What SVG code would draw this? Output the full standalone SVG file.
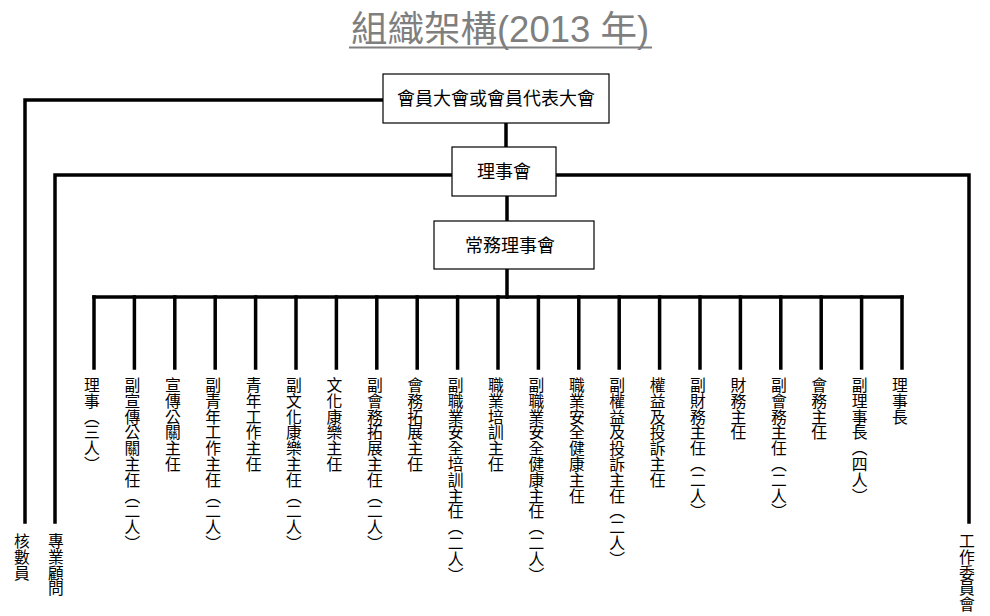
<svg xmlns="http://www.w3.org/2000/svg" width="990" height="616" viewBox="0 0 990 616">
<style>
.box{fill:#fff;stroke:#000;stroke-width:1.2}
.bt{font-family:"Noto Sans CJK TC","Noto Sans CJK SC",sans-serif;font-size:18px;fill:#000;text-anchor:middle}
.ln{fill:none;stroke:#000;stroke-width:3.5;stroke-linejoin:miter;stroke-linecap:square}
.vt{font-family:"Noto Sans CJK TC","Noto Sans CJK SC",sans-serif;font-size:15.8px;fill:#000;writing-mode:vertical-rl;text-anchor:start}
.title{font-family:"Liberation Sans","Noto Sans CJK TC",sans-serif;font-size:36.5px;fill:#7f7f7f;text-anchor:middle}
</style>
<rect width="990" height="616" fill="#fff"/>
<g id="title">
<text class="title" x="500" y="42">組織架構(2013 年)</text>
<line x1="349" y1="47.5" x2="652" y2="47.5" stroke="#7f7f7f" stroke-width="2"/>
</g>
<g id="connectors">
<polyline class="ln" points="383,100 25,100 25,522"/>
<line class="ln" x1="506" y1="123" x2="506" y2="147"/>
<polyline class="ln" points="452,175 55,175 55,522"/>
<polyline class="ln" points="556,175 969,175 969,522"/>
<line class="ln" x1="507" y1="196" x2="507" y2="221"/>
<line class="ln" x1="507" y1="269" x2="507" y2="297"/>
<line class="ln" x1="94" y1="297" x2="902" y2="297"/>
<line class="ln" x1="94" y1="297" x2="94" y2="368"/>
<line class="ln" x1="134.4" y1="297" x2="134.4" y2="368"/>
<line class="ln" x1="174.8" y1="297" x2="174.8" y2="368"/>
<line class="ln" x1="215.2" y1="297" x2="215.2" y2="368"/>
<line class="ln" x1="255.6" y1="297" x2="255.6" y2="368"/>
<line class="ln" x1="296" y1="297" x2="296" y2="368"/>
<line class="ln" x1="336.4" y1="297" x2="336.4" y2="368"/>
<line class="ln" x1="376.8" y1="297" x2="376.8" y2="368"/>
<line class="ln" x1="417.2" y1="297" x2="417.2" y2="368"/>
<line class="ln" x1="457.6" y1="297" x2="457.6" y2="368"/>
<line class="ln" x1="498" y1="297" x2="498" y2="368"/>
<line class="ln" x1="538.4" y1="297" x2="538.4" y2="368"/>
<line class="ln" x1="578.8" y1="297" x2="578.8" y2="368"/>
<line class="ln" x1="619.2" y1="297" x2="619.2" y2="368"/>
<line class="ln" x1="659.6" y1="297" x2="659.6" y2="368"/>
<line class="ln" x1="700" y1="297" x2="700" y2="368"/>
<line class="ln" x1="740.4" y1="297" x2="740.4" y2="368"/>
<line class="ln" x1="780.8" y1="297" x2="780.8" y2="368"/>
<line class="ln" x1="821.2" y1="297" x2="821.2" y2="368"/>
<line class="ln" x1="861.6" y1="297" x2="861.6" y2="368"/>
<line class="ln" x1="902" y1="297" x2="902" y2="368"/>
</g>
<g id="n-general">
<rect class="box" x="383" y="74" width="226" height="49"/>
<text class="bt" x="496" y="105">會員大會或會員代表大會</text>
</g>
<g id="n-council">
<rect class="box" x="452" y="147" width="104" height="49"/>
<text class="bt" x="504" y="178">理事會</text>
</g>
<g id="n-standing">
<rect class="box" x="434" y="221" width="160" height="48"/>
<text class="bt" x="510" y="252">常務理事會</text>
</g>
<g id="n-auditor"><text class="vt" x="22" y="533">核數員</text></g>
<g id="n-advisor"><text class="vt" x="56" y="533">專業顧問</text></g>
<g id="n-committee"><text class="vt" x="967" y="533">工作委員會</text></g>
<g id="n-1"><text class="vt" x="92" y="377">理事（三人）</text></g>
<g id="n-2"><text class="vt" x="132.4" y="377">副宣傳公關主任（二人）</text></g>
<g id="n-3"><text class="vt" x="172.8" y="377">宣傳公關主任</text></g>
<g id="n-4"><text class="vt" x="213.2" y="377">副青年工作主任（二人）</text></g>
<g id="n-5"><text class="vt" x="253.6" y="377">青年工作主任</text></g>
<g id="n-6"><text class="vt" x="294" y="377">副文化康樂主任（二人）</text></g>
<g id="n-7"><text class="vt" x="334.4" y="377">文化康樂主任</text></g>
<g id="n-8"><text class="vt" x="374.8" y="377">副會務拓展主任（二人）</text></g>
<g id="n-9"><text class="vt" x="415.2" y="377">會務拓展主任</text></g>
<g id="n-10"><text class="vt" x="455.6" y="377">副職業安全培訓主任（二人）</text></g>
<g id="n-11"><text class="vt" x="496" y="377">職業培訓主任</text></g>
<g id="n-12"><text class="vt" x="536.4" y="377">副職業安全健康主任（二人）</text></g>
<g id="n-13"><text class="vt" x="576.8" y="377">職業安全健康主任</text></g>
<g id="n-14"><text class="vt" x="617.2" y="377">副權益及投訴主任（二人）</text></g>
<g id="n-15"><text class="vt" x="657.6" y="377">權益及投訴主任</text></g>
<g id="n-16"><text class="vt" x="698" y="377">副財務主任（二人）</text></g>
<g id="n-17"><text class="vt" x="738.4" y="377">財務主任</text></g>
<g id="n-18"><text class="vt" x="778.8" y="377">副會務主任（二人）</text></g>
<g id="n-19"><text class="vt" x="819.2" y="377">會務主任</text></g>
<g id="n-20"><text class="vt" x="859.6" y="377">副理事長（四人）</text></g>
<g id="n-21"><text class="vt" x="900" y="377">理事長</text></g>
</svg>
